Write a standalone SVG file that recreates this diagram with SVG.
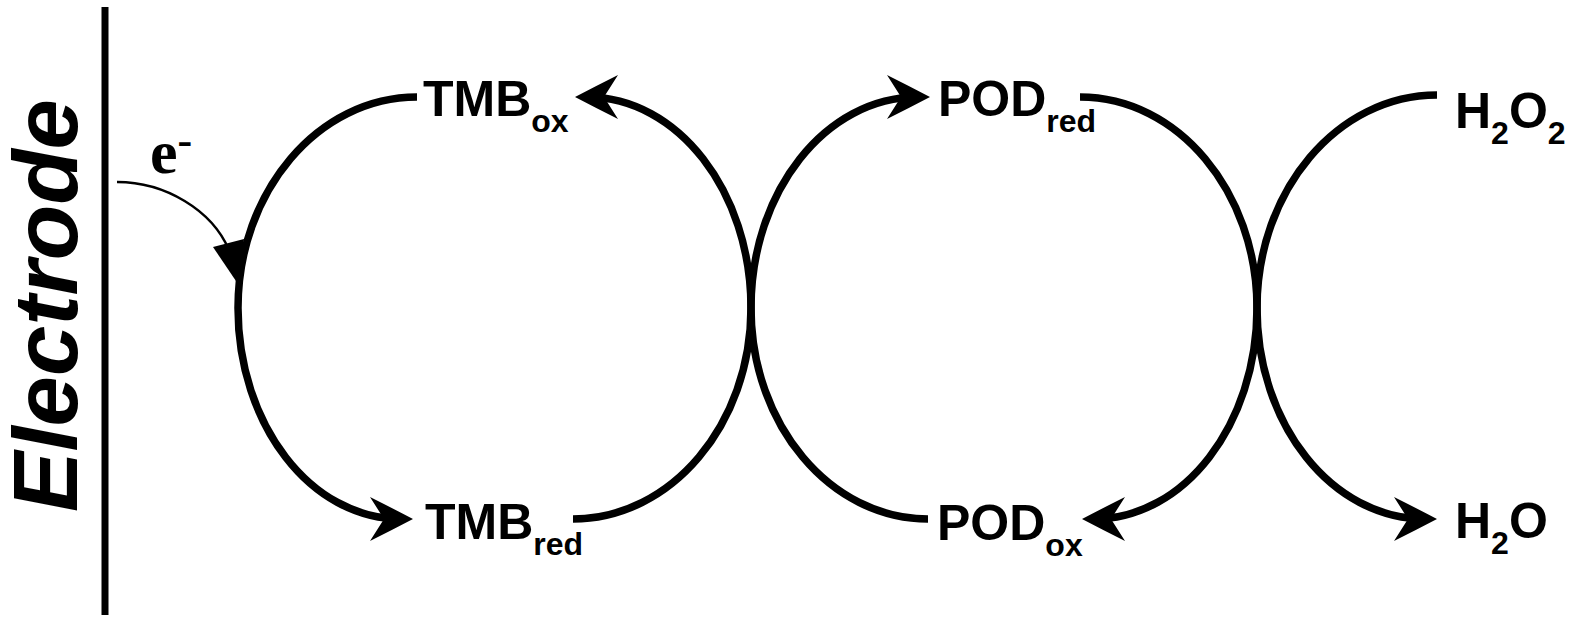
<svg xmlns="http://www.w3.org/2000/svg" width="1576" height="620" viewBox="0 0 1576 620">
  <style>
    .lbl { font-family: "Liberation Sans", Arial, sans-serif; font-weight: bold; font-size: 50px; fill: #000; }
    .sub { font-size: 32px; }
    .title { font-family: "Liberation Sans", Arial, sans-serif; font-weight: bold; font-style: italic; font-size: 90px; fill: #000; }
    .arc { fill: none; stroke: #000; stroke-width: 7.5; stroke-linecap: butt; }
    .thin { fill: none; stroke: #000; stroke-width: 2.5; }
  </style>
  <defs>
    <marker id="barb" markerUnits="userSpaceOnUse" viewBox="0 0 46 46" markerWidth="46" markerHeight="46" refX="34" refY="23" orient="auto">
      <path d="M46,23 Q25,12 3,1 L17,23 L3,45 Q25,34 46,23 Z" fill="#000"/>
    </marker>
  </defs>
  <rect width="1576" height="620" fill="#fff"/>

  <!-- electrode surface -->
  <g id="electrode">
    <line x1="105" y1="7" x2="105" y2="615" stroke="#000" stroke-width="7"/>
    <text class="title" textLength="413" lengthAdjust="spacingAndGlyphs" transform="translate(77,512) rotate(-90)">Electrode</text>
  </g>

  <!-- species -->
  <g id="tmb-ox"><text class="lbl" x="423" y="116">TMB<tspan class="sub" dy="16">ox</tspan></text></g>
  <g id="tmb-red"><text class="lbl" x="425" y="539">TMB<tspan class="sub" dy="16">red</tspan></text></g>
  <g id="pod-red"><text class="lbl" x="938" y="116">POD<tspan class="sub" dy="16">red</tspan></text></g>
  <g id="pod-ox"><text class="lbl" x="937" y="540">POD<tspan class="sub" dy="16">ox</tspan></text></g>
  <g id="h2o2"><text class="lbl" x="1455" y="128">H<tspan class="sub" dy="16">2</tspan><tspan dy="-16">O</tspan><tspan class="sub" dy="16">2</tspan></text></g>
  <g id="h2o"><text class="lbl" x="1455" y="538">H<tspan class="sub" dy="16">2</tspan><tspan dy="-16">O</tspan></text></g>
  <g id="electron"><text x="150" y="173" font-family="Liberation Serif, 'Times New Roman', serif" font-weight="bold" font-size="62">e<tspan font-size="44" dy="-18">-</tspan></text></g>

  <!-- reaction arcs -->
  <g id="connectors">
    <!-- TMBox -> TMBred -->
    <path class="arc" marker-end="url(#barb)" d="M417,97 C318.1,97 238,191.5 238,308 C238,424.5 310.8,519 401,519"/>
    <!-- TMBred -> TMBox -->
    <path class="arc" marker-end="url(#barb)" d="M573,519 C671.3,519 751,424.5 751,308 C751,191.5 677.8,97 587,97"/>
    <!-- PODox -> PODred -->
    <path class="arc" marker-end="url(#barb)" d="M928,519 C830.2,519 751,424.5 751,308 C751,191.5 825.6,97 918,97"/>
    <!-- PODred -> PODox -->
    <path class="arc" marker-end="url(#barb)" d="M1080,97 C1177.8,97 1257,191.5 1257,308 C1257,424.5 1184.2,519 1094,519"/>
    <!-- H2O2 -> H2O -->
    <path class="arc" marker-end="url(#barb)" d="M1437,95 C1337.6,95 1257,190.4 1257,308 C1257,424.5 1332,519 1425,519"/>
    <!-- electron transfer -->
    <path class="thin" d="M117,182 C165,182 212,210 229,250"/>
    <polygon points="238,284 213,247 244,239" fill="#000"/>
  </g>
</svg>
